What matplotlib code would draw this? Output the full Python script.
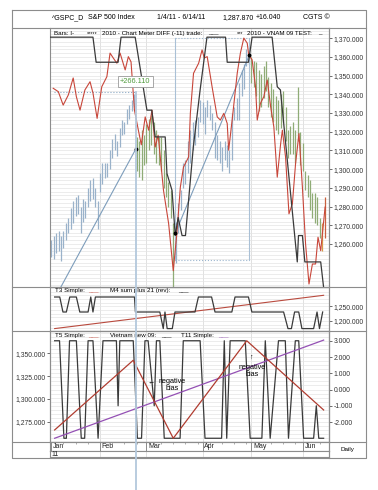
import matplotlib
matplotlib.use("Agg")
import matplotlib.pyplot as plt  # noqa: E402
import matplotlib.transforms as mtrans  # noqa: E402
from matplotlib.lines import Line2D  # noqa: E402
from matplotlib.ticker import FixedLocator, FuncFormatter, MultipleLocator  # noqa: E402

plt.rcParams["font.family"] = ["Liberation Sans", "DejaVu Sans"]

W, H = 378, 490

# ---- price bars (trading day index, high, low) ----
bar_hi = [1262, 1264, 1266, 1267, 1264, 1267, 1271, 1274, 1279, 1283,
          1285, 1286, 1280, 1284, 1283, 1290, 1294, 1295, 1290, 1283,
          1298, 1303, 1303, 1303, 1310, 1316, 1319, 1315, 1322, 1326,
          1325, 1332, 1334, 1337, 1340, 1317, 1315, 1321, 1318, 1324,
          1327, 1329, 1325, 1321, 1317, 1317, 1310, 1298, 1293, 1289,
          1271, 1272, 1282, 1289, 1303, 1305, 1315, 1321, 1325, 1326,
          1328, 1337, 1336, 1333, 1337, 1334, 1330, 1325, 1318, 1315,
          1312, 1315, 1313, 1310, 1330, 1333, 1338, 1346, 1353, 1356,
          1364, 1366, 1360, 1358, 1357, 1353, 1351, 1355, 1358, 1349,
          1346, 1343, 1339, 1337, 1340, 1342, 1333, 1321, 1323, 1325,
          1321, 1344, 1320, 1314, 1299, 1297, 1294, 1287, 1287, 1285,
          1274, 1271, 1285]
bar_lo = [1253, 1252, 1255, 1256, 1251, 1258, 1262, 1266, 1268, 1271,
          1275, 1276, 1266, 1272, 1274, 1280, 1283, 1284, 1280, 1268,
          1288, 1292, 1295, 1296, 1300, 1306, 1310, 1307, 1312, 1318,
          1319, 1324, 1327, 1331, 1333, 1299, 1296, 1294, 1302, 1303,
          1310, 1313, 1308, 1303, 1302, 1299, 1290, 1285, 1280, 1274,
          1237, 1250, 1266, 1278, 1290, 1292, 1298, 1303, 1310, 1313,
          1317, 1325, 1324, 1319, 1328, 1326, 1321, 1306, 1305, 1303,
          1299, 1305, 1301, 1298, 1305, 1326, 1326, 1326, 1339, 1343,
          1355, 1356, 1346, 1344, 1339, 1331, 1333, 1338, 1342, 1333,
          1328, 1325, 1321, 1319, 1322, 1325, 1315, 1306, 1308, 1308,
          1303, 1315, 1302, 1299, 1289, 1285, 1278, 1274, 1271, 1270,
          1263, 1256, 1263]
days = list(range(len(bar_hi)))
bar_phase = ["up"] * 35 + ["dn"] * 16 + ["up"] * 31 + ["dn"] * 29 + ["o1", "o2"]

# ---- 2010 - VNAM 09 TEST (red) ----
red_x = [0.8, 2.9, 4.9, 7.0, 9.0, 10.3, 11.8, 13.8, 15.9, 17.1, 18.8, 20.7, 22.8, 24.1, 25.4,
         26.9, 28.2, 30.3, 31.6, 32.7, 34.1, 35.7, 36.9, 38.5, 39.9, 41.3, 42.6, 43.8, 46.0, 48.1,
         50.0, 51.5, 52.9, 54.2, 56.3, 57.0, 58.3, 60.4, 61.8, 62.7, 63.9, 65.9, 68.0, 69.3, 70.7,
         72.1, 72.7, 74.2, 76.2, 77.5, 78.9, 80.3, 80.9, 82.3, 83.7, 84.4, 85.7, 87.1, 88.5, 89.9,
         91.2, 92.6, 94.0, 94.7, 96.0, 97.4, 98.8, 100.1, 101.5, 102.9, 104.2, 105.6, 107.0, 108.3,
         109.3, 110.4, 112.2]
red_v = [1343.2, 1341.4, 1334.2, 1339.6, 1348.7, 1338.7, 1331.5, 1342.3, 1346.7, 1340.7,
         1327.1, 1344.0, 1349.4, 1362.0, 1359.4, 1356.6, 1362.0, 1353.0, 1360.1, 1357.3,
         1331.5, 1320.8, 1313.0, 1327.9, 1320.8, 1331.5, 1311.8, 1318.1, 1288.6, 1270.9,
         1245.7, 1266.1, 1290.4, 1301.1, 1306.5, 1329.9, 1351.2, 1356.6, 1363.7, 1359.4,
         1360.1, 1344.0, 1327.9, 1326.2, 1329.8, 1324.4, 1310.1, 1327.2, 1351.2, 1362.0,
         1370.0, 1367.3, 1361.0, 1358.4, 1344.0, 1326.2, 1335.1, 1338.7, 1347.6, 1333.3,
         1322.6, 1295.7, 1313.7, 1320.8, 1306.5, 1276.1, 1281.5, 1302.9, 1319.0, 1290.4,
         1260.0, 1238.6, 1249.3, 1249.3, 1263.6, 1256.4, 1279.7]

# ---- Chart Meter DIFF (black steps) ----
cm_x = [-0.5, 17.1, 18.4, 27.4, 28.6, 34.4, 39.2, 41.2, 42.6, 46.7, 47.4, 49.5, 50.8, 52.0, 53.6,
        55.0, 58.2, 61.0, 63.8, 71.4, 72.1, 80.8, 82.3, 90.5, 92.6, 93.9, 100.8, 101.3, 102.9,
        103.9, 110.4, 111.6, 112.6]
cm_v = [1370.5, 1370.5, 1357.1, 1357.1, 1370.5, 1370.5, 1331.5, 1331.5, 1317.2, 1317.2,
        1297.7, 1288.6, 1264.5, 1274.1, 1264.5, 1264.5, 1311.7, 1342.3, 1370.5, 1370.5,
        1357.1, 1357.1, 1370.5, 1370.5, 1344.0, 1342.3, 1250.4, 1264.5, 1264.5, 1250.4,
        1250.4, 1236.7, 1225.0]

# ---- drawing tools on main panel ----
meas_x, meas_v, meas_x0 = 34.6, 1341.2, 1.0
meas_label = "+266.110"
diag1_x, diag1_v = [0.0, 34.6], [1227.5, 1310.6]
diag2_x, diag2_v = [50.8, 81.2], [1265.6, 1361.1]
box_x, box_v = [50.8, 81.2], [1251.6, 1370.0]

# ---- T3 panel ----
t3_x = [1.4, 3.5, 4.8, 6.2, 7.6, 10.3, 11.7, 15.1, 16.2, 17.1, 18.1, 34.1, 34.5, 44.5, 45.9,
        46.6, 47.5, 49.6, 50.7, 58.9, 60.3, 65.7, 67.1, 74.0, 75.3, 80.8, 82.2, 95.2, 97.0,
        98.4, 99.7, 101.4, 102.7, 107.5, 108.9, 109.9, 111.2]
t3_v = [1281.6, 1281.6, 1230.6, 1230.6, 1281.6, 1281.6, 1230.6, 1230.6, 1281.6, 1230.6,
        1281.6, 1281.6, 1230.6, 1230.6, 1174.2, 1230.6, 1174.2, 1174.2, 1230.6, 1230.6,
        1281.6, 1281.6, 1230.6, 1230.6, 1281.6, 1281.6, 1230.6, 1230.6, 1174.2, 1174.2,
        1230.6, 1230.6, 1174.2, 1174.2, 1230.6, 1174.2, 1230.6]
t3_red_x, t3_red_v = [1.4, 111.6], [1174.2, 1287.4]

# ---- T5 / Vietnam / T11 panel ----
t5_x = [1.4, 3.4, 5.2, 6.2, 7.5, 10.3, 12.3, 13.7, 15.1, 17.1, 19.2, 21.2, 26.7, 27.4, 28.1,
        33.6, 35.3, 37.0, 38.4, 39.7, 42.2, 43.1, 44.5, 46.3, 52.8, 54.1, 61.0, 63.0, 69.8,
        70.9, 71.9, 73.3, 79.5, 81.5, 86.3, 87.7, 89.7, 93.1, 95.9, 97.2, 100.0, 101.4, 103.4,
        107.5, 108.6, 109.6, 111.6]
t5_v = [3, 3, -3, -3, 3, 3, -3, -3, 3, 3, -3, 3, 3, -1, 3, 3, -3, -3, 3, 3, -1, 3, 3, -3, -3,
        3, 3, -3, -3, 3, -3, 3, 3, -3, -3, 3, -3, 3, 3, -3, 3, 3, -3, -3, -1, -3, -3]
zig_x, zig_v = [1.4, 33.6, 50.0, 80.1, 111.6], [-2.49, 1.80, -3.0, 3.0, -1.26]
t11_x, t11_v = [1.4, 111.6], [-3.0, 3.04]

months = ["Jan", "Feb", "Mar", "Apr", "May", "Jun"]
month_start = [0, 20, 39, 62, 82, 103]

XLIM = (-0.5, 113.8)
FRAME = "#8c8c8c"
GRID = "#e4e4e4"
BLUE = "#b3c8dc"
LEG = 4.5
fmt3 = FuncFormatter(lambda v, p: f"{v:,.3f}")

fig = plt.figure(figsize=(W / 100, H / 100), dpi=100)


def px_box(x0, y0, x1, y1):
    return [x0 / W, 1 - y1 / H, (x1 - x0) / W, (y1 - y0) / H]


def ftext(x, y, s, **kw):
    kw.setdefault("va", "center")
    kw.setdefault("fontsize", LEG)
    fig.text(x / W, 1 - y / H, s, **kw)


def fline(xs, ys, **kw):
    kw.setdefault("color", FRAME)
    kw.setdefault("lw", 0.8)
    fig.add_artist(Line2D([x / W for x in xs], [1 - y / H for y in ys],
                          transform=fig.transFigure, **kw))


def panel(box):
    ax = fig.add_axes(px_box(*box))
    ax.set_xlim(*XLIM)
    ax.set_xticks([])
    for s in ax.spines.values():
        s.set_color(FRAME)
        s.set_linewidth(0.8)
    for m in month_start[1:]:
        ax.axvline(m, color="#dcdcdc", lw=0.6, zorder=0)
    return ax


def right_ticks(ax, ticks):
    ax.yaxis.tick_right()
    ax.yaxis.set_major_locator(FixedLocator(ticks))
    ax.yaxis.set_major_formatter(fmt3)
    ax.tick_params(axis="y", which="major", labelsize=4.9, length=2, width=0.5,
                   pad=1.5, colors="#333333")
    ax.tick_params(axis="y", which="minor", length=0)


# ---------------- main panel ----------------
ax = panel((50, 28, 329, 287))
ax.set_ylim(1237, 1375.4)
right_ticks(ax, list(range(1260, 1371, 10)))
ax.yaxis.set_minor_locator(MultipleLocator(2))
ax.grid(which="both", axis="y", color=GRID, lw=0.5, zorder=0)

col = {"up": "#9ab2ca", "dn": "#8fac76", "o1": "#d79a4a", "o2": "#c8613f"}
ax.vlines(days, bar_lo, bar_hi, colors=[col[p] for p in bar_phase], lw=0.9, zorder=2)

ax.plot(box_x, [box_v[1], box_v[1]], color="#9db7cf", lw=0.8, ls=":", zorder=3)
ax.plot(box_x, [box_v[0], box_v[0]], color="#9db7cf", lw=0.8, ls=":", zorder=3)
for bx in box_x:
    ax.plot([bx, bx], box_v, color="#a9c0d6", lw=0.8, zorder=3)
ax.plot([meas_x0, meas_x], [meas_v, meas_v], color="#8aa8c4", lw=0.8, ls=":", zorder=3)
ax.plot(diag1_x, diag1_v, color="#7d9dbb", lw=0.8, zorder=3)
ax.plot(diag2_x, diag2_v, color="#7d9dbb", lw=0.8, zorder=3)

ax.plot(red_x, red_v, color="#c8463a", lw=0.8, zorder=4)
ax.plot(cm_x, cm_v, color="#3a3a3a", lw=0.9, zorder=5)
ax.plot([diag1_x[1], diag2_x[0], diag2_x[1]], [diag1_v[1], diag2_v[0], diag2_v[1]],
        "o", ms=1.8, color="black", zorder=6)
ax.text(meas_x - 0.2, meas_v + 5.5, meas_label, fontsize=5.3, color="#4f9a3c",
        ha="center", va="center", zorder=7,
        bbox=dict(boxstyle="square,pad=0.3", fc="white", ec="#9a9a9a", lw=0.6))

# ---------------- T3 panel ----------------
ax2 = panel((50, 287, 329, 331))
ax2.set_ylim(1166, 1315.6)
right_ticks(ax2, [1200, 1250])
ax2.yaxis.set_minor_locator(MultipleLocator(12.5))
ax2.grid(which="both", axis="y", color=GRID, lw=0.5, zorder=0)
ax2.plot(t3_red_x, t3_red_v, color="#b94a3e", lw=0.8)
ax2.plot(t3_x, t3_v, color="#3a3a3a", lw=0.9)

# ---------------- T5 panel ----------------
ax3 = panel((50, 331, 329, 442))
ax3.set_ylim(1252.7, 1374.5)
ax3.yaxis.set_major_locator(FixedLocator([1275, 1300, 1325, 1350]))
ax3.yaxis.set_major_formatter(fmt3)
ax3.tick_params(axis="y", labelsize=4.9, length=2, width=0.5, pad=1.5, colors="#333333")
ax3r = ax3.twinx()
ax3r.set_xlim(*XLIM)
ax3r.set_ylim(-3.23, 3.6)
for s in ax3r.spines.values():
    s.set_color(FRAME)
    s.set_linewidth(0.8)
right_ticks(ax3r, [-2, -1, 0, 1, 2, 3])
ax3r.yaxis.set_minor_locator(MultipleLocator(0.25))
ax3r.grid(which="both", axis="y", color=GRID, lw=0.5, zorder=0)
ax3r.plot(t5_x, t5_v, color="#3a3a3a", lw=0.9)
ax3r.plot(t11_x, t11_v, color="#9450b4", lw=0.9)
ax3r.plot(zig_x, zig_v, color="#b03c30", lw=0.9)
ax3r.text(40.8, 0.5, "\u2190", fontsize=5, ha="center", va="center")
ax3r.text(49.6, 0.28, "negative\nbias", fontsize=5.2, ha="center", va="center",
          linespacing=0.95)
ax3r.text(81.9, 1.95, "\u2191", fontsize=5, ha="center", va="center")
ax3r.text(82.3, 1.12, "negative\nbias", fontsize=5.2, ha="center", va="center",
          linespacing=0.95)

# ---------------- date rows ----------------
axd = panel((50, 442, 329, 451))
axd.set_ylim(0, 1)
axd.set_yticks([])
for m, name in zip(month_start, months):
    axd.axvline(m, color=FRAME, lw=0.7)
    axd.text(m + 0.7, 0.45, name, fontsize=5, va="center", ha="left", color="#222222")
axd.set_xticks(list(range(0, 113, 5)))
axd.set_xticklabels([])
axd.tick_params(axis="x", top=True, bottom=False, direction="in", length=1.5, width=0.5,
                color=FRAME)
axy = panel((50, 451, 329, 457))
axy.set_ylim(0, 1)
axy.set_yticks([])
axy.text(0.3, 0.45, "11", fontsize=5, va="center", ha="left", color="#222222")

# ---------------- frame and texts ----------------
fline([12, 366, 366, 12, 12], [10, 10, 458, 458, 10])
fline([12, 366], [28, 28])
fline([12, 366], [287, 287])
fline([12, 366], [331, 331])
fline([12, 366], [442, 442])
fline([329, 329], [28, 458])

ftext(52, 17.3, "^GSPC_D", fontsize=5)
ftext(88, 17.3, "S&P 500 Index", fontsize=5)
ftext(157, 17.3, "1/4/11 - 6/14/11", fontsize=5)
ftext(222, 17.3, "1,287.870", fontsize=5)
ftext(256, 17.3, "+16.040", fontsize=5)
ftext(303, 17.3, "CGTS \u00a9", fontsize=5)

ftext(54, 33.3, "Bars: I-")
ftext(87, 33.6, "*****", fontsize=4)
ftext(101.7, 33.3, "2010 - Chart Meter DIFF (-11) trade:")
ftext(208, 33.3, "___")
ftext(236.7, 33.6, "***", fontsize=4)
ftext(246.7, 33.3, "2010 - VNAM 09 TEST:")
ftext(318, 33.3, "_")

ftext(54.7, 290.5, "T3 Simple:")
ftext(88, 290.5, "___", color="#c8463a")
ftext(109.7, 290.5, "M4 sum plus 21 (rev):")
ftext(178, 290.5, "___")

ftext(54.7, 335.5, "T5 Simple:")
ftext(88, 335.5, "___", color="#c8463a")
ftext(109.7, 335.5, "Vietnam new 09:")
ftext(161, 335.5, "___")
ftext(181.3, 335.5, "T11 Simple:")
ftext(218, 335.5, "___", color="#9450b4")

ftext(347, 449.5, "Daily", ha="center")

# long vertical marker line through all panels down to the image bottom
tr = mtrans.blended_transform_factory(ax.transData, fig.transFigure)
y_top = fig.transFigure.inverted().transform(ax.transData.transform((meas_x, meas_v)))[1]
fig.add_artist(Line2D([meas_x, meas_x], [0, y_top], transform=tr, color=BLUE, lw=1.3,
                      zorder=10))

fig.savefig("out.png", dpi=100)
